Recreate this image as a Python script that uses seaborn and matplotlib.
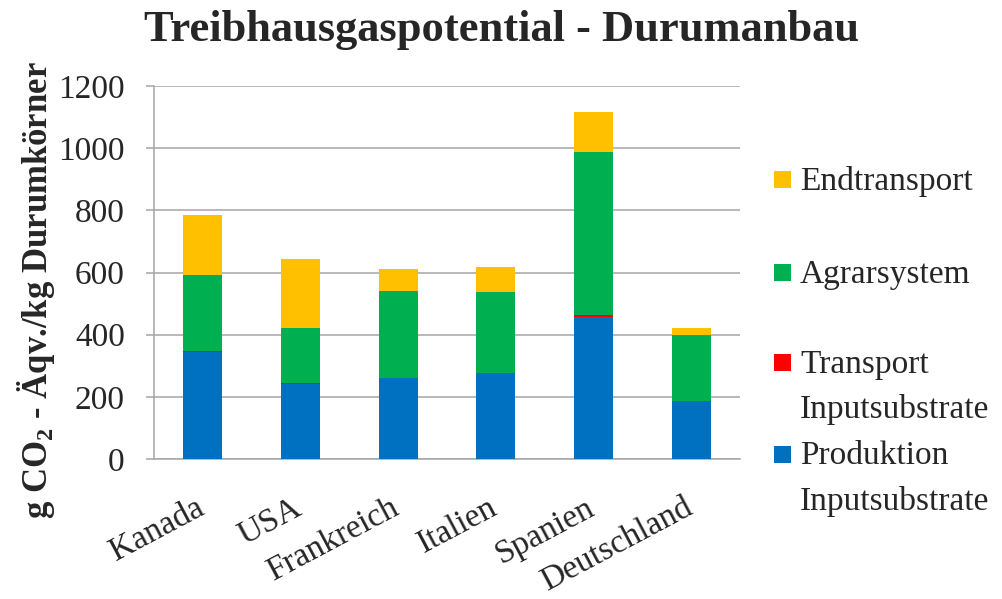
import numpy as np
import pandas as pd
import seaborn as sns
import matplotlib.pyplot as plt
import matplotlib.transforms as mtransforms
from matplotlib.patches import Rectangle

# ---- data ----
countries = ["Kanada", "USA", "Frankreich", "Italien", "Spanien", "Deutschland"]
produktion = [344, 240, 261, 277, 458, 186]
transport = [2, 5, 1, 1, 6, 1]
agrarsystem = [245, 177, 280, 260, 523, 213]
endtransport = [193, 222, 69, 81, 131, 22]

series_names = ["Produktion\nInputsubstrate", "Transport\nInputsubstrate", "Agrarsystem", "Endtransport"]
series_vals = [produktion, transport, agrarsystem, endtransport]
colors = ["#0070C0", "#FF0000", "#00B050", "#FFC000"]
yticks = [0, 200, 400, 600, 800, 1000, 1200]

title = "Treibhausgaspotential - Durumanbau"
ylabel = "g CO$_\\mathbf{2}$ - Äqv./kg Durumkörner"

# ---- style ----
sns.set_theme(style="white")
plt.rcParams["font.family"] = ["Liberation Serif", "DejaVu Serif"]
plt.rcParams["mathtext.fontset"] = "custom"
plt.rcParams["mathtext.rm"] = "Liberation Serif"
plt.rcParams["mathtext.bf"] = "Liberation Serif:bold"

fig = plt.figure(figsize=(10.03, 5.99), dpi=100)
ax = fig.add_axes([0.1535, 0.2337, 0.7378 - 0.1535, 0.8564 - 0.2337])

cum = np.cumsum(np.array(series_vals, dtype=float), axis=0)
# draw from the top of the stack downwards so lower segments overlay
for i in range(len(series_vals) - 1, -1, -1):
    df = pd.DataFrame({"Land": countries, "Wert": cum[i]})
    sns.barplot(data=df, x="Land", y="Wert", color=colors[i], width=0.4,
                saturation=1, ax=ax, edgecolor="none", linewidth=0, zorder=3)

ax.set_ylim(0, 1200)
ax.set_xlim(-0.5, len(countries) - 0.5)
ax.set_yticks(yticks)
ax.set_yticklabels([str(v) for v in yticks])
ax.yaxis.grid(True, color="#A6A6A6", linewidth=1.1, zorder=0)
ax.set_axisbelow(True)

for s in ["top", "right"]:
    ax.spines[s].set_visible(False)
for s in ["left", "bottom"]:
    ax.spines[s].set_color("#A6A6A6")
    ax.spines[s].set_linewidth(1.1)

ax.set_xlabel("")
ax.set_ylabel("")
# category boundary ticks
ax.set_xticks(np.arange(-0.5, len(countries) + 0.5, 1.0), minor=True)
ax.tick_params(axis="x", which="minor", length=6, color="#A6A6A6", width=1.1, direction="out")
ax.tick_params(axis="x", which="major", length=0, pad=24, labelsize=24)
ax.set_xticks(range(len(countries)))
ax.set_xticklabels(countries, rotation=28, ha="right", va="top", rotation_mode="default")
shift = mtransforms.ScaledTranslation(6 / 100, 0, fig.dpi_scale_trans)
for lab in ax.get_xticklabels():
    lab.set_transform(lab.get_transform() + shift)
ax.tick_params(axis="y", length=6, color="#A6A6A6", width=1.1, direction="out", pad=15, labelsize=24, left=True)

fig.text(0.5, 0.95, title, ha="center", va="center", fontsize=32, fontweight="bold")
fig.text(0.036, 0.515, ylabel, ha="center", va="center", rotation=90, fontsize=25, fontweight="bold")

# ---- legend (manual, handles aligned with first line) ----
leg_order = [3, 2, 1, 0]
leg_y_px = [180, 273, 363, 455]
W, H = 1003, 599
for k, yy in zip(leg_order, leg_y_px):
    fig.patches.append(Rectangle((774 / W, 1 - (yy + 8) / H), 17 / W, 17 / H,
                                 transform=fig.transFigure, facecolor=colors[k],
                                 edgecolor="none"))
    fig.text(800 / W, 1 - (yy - 14) / H, series_names[k], ha="left", va="top",
             fontsize=24, linespacing=1.6)

fig.savefig("out.png", dpi=100)
